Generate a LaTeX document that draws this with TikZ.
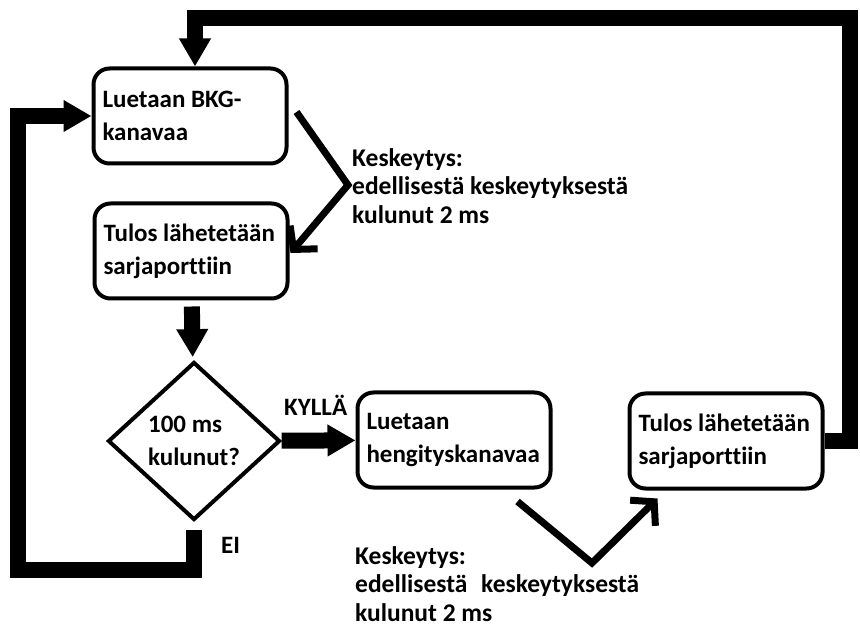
\documentclass[tikz,border=0pt]{standalone}
\usepackage{fontspec}
\setmainfont[Ligatures=NoCommon]{Carlito}
\usetikzlibrary{arrows.meta,shapes.geometric}

\begin{document}
\begin{tikzpicture}[x=1pt,y=-1pt,line join=miter,
	font=\bfseries\fontsize{25}{33}\selectfont]
	\tikzstyle{stepbox}=[draw,line width=4pt,rounded corners=16pt,text width=175pt,
		align=flush left,inner xsep=9pt,minimum height=95pt]
	\tikzstyle{decision}=[draw,diamond,line width=4pt,align=left,inner sep=0pt,
		minimum width=172pt,minimum height=158pt]
	\tikzstyle{flow}=[line width=16pt,-{Triangle[width=30pt,length=28pt]}]
	\tikzstyle{interrupt}=[line width=7pt,-{Straight Barb[length=16pt,width=36pt]}]
	\tikzstyle{note}=[anchor=west,align=left,inner sep=0pt,
		font=\bfseries\fontsize{25.5}{28.5}\selectfont]
	\useasboundingbox (0,0) rectangle (860,628);
	
	\node[stepbox]  (bkg)   at (190,116)   {Luetaan BKG-\\kanavaa};
	\node[stepbox]  (send1) at (191,251)   {Tulos lähetetään\\sarjaporttiin};
	\node[decision] (dec)   at (194,441)   {100 ms\\kulunut?};
	\node[stepbox]  (read)  at (454,440)   {Luetaan\\hengityskanavaa};
	\node[stepbox]  (send2) at (726,441)   {Tulos lähetetään\\sarjaporttiin};
	
	\node[anchor=west,inner sep=0pt] (yes) at (284,405) {KYLLÄ};
	\node[anchor=west,inner sep=0pt] (no)  at (221,545) {EI};
	\node[note] (int1) at (352,186) {Keskeytys:\\edellisestä keskeytyksestä\\kulunut 2 ms};
	\node[note] (int2) at (355,584) {Keskeytys:\\edellisestä\hspace{8pt} keskeytyksestä\\kulunut 2 ms};
	
	\coordinate (apex1)     at (348,185);
	\coordinate (apex2)     at (592,563);
	\coordinate (loopleft)  at (18,570);
	\coordinate (loopright) at (850,18);
	
	\draw[flow,shorten <=6pt,shorten >=4pt] (send1) -- (dec);
	\draw[flow] (dec) -- (read);
	\draw[flow] ([yshift=-8pt]dec.south) |- (loopleft) |- (bkg.west);
	\draw[flow] (send2.east) -| (loopright) -| ([xshift=5pt]bkg.north);
	
	\draw[interrupt] ([shift={(8pt,4pt)}]bkg.east) -- (apex1) -- ([shift={(1pt,-2pt)}]send1.east);
	\draw[interrupt] ([shift={(-35pt,-12pt)}]read.south east) -- (apex2)
		-- ([shift={(30pt,-8pt)}]send2.south west);
\end{tikzpicture}
\end{document}
